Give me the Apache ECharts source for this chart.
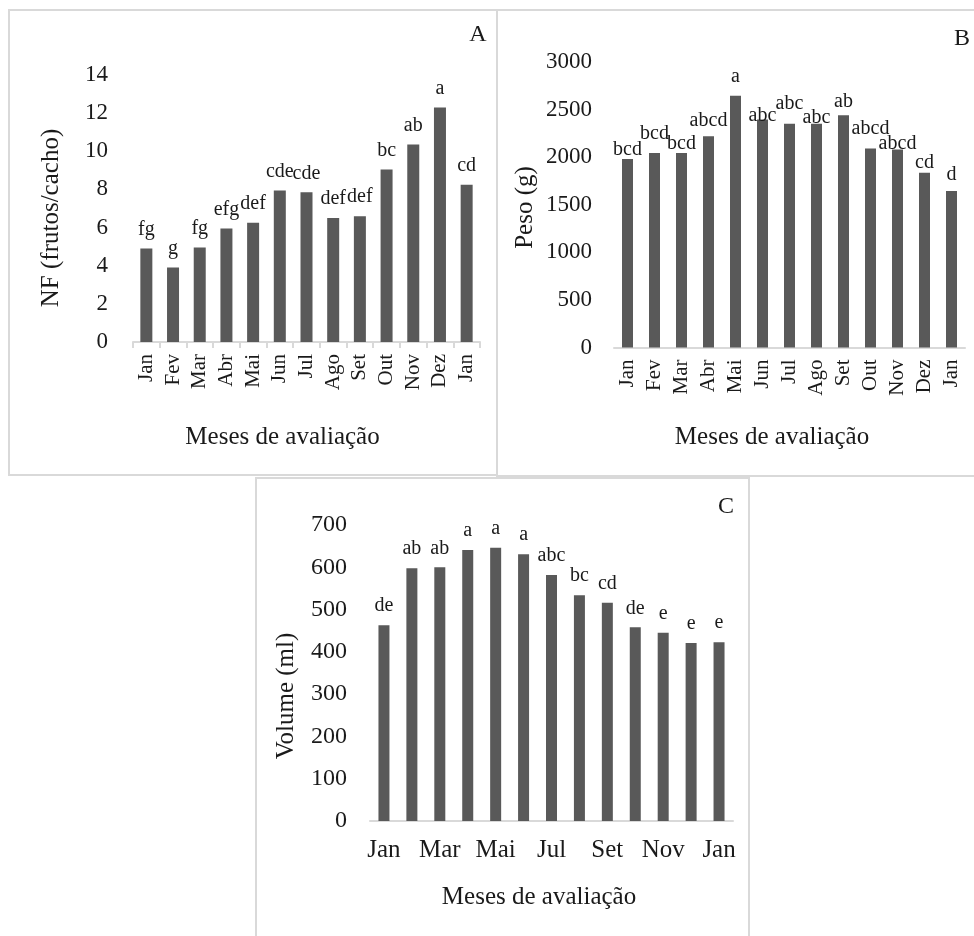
<!DOCTYPE html>
<html>
<head>
<meta charset="utf-8">
<script src="https://cdn.jsdelivr.net/npm/echarts@6/dist/echarts.min.js"></script>
<style>
  html, body { margin: 0; padding: 0; background: #ffffff; }
  #chart { width: 974px; height: 936px; }
</style>
</head>
<body>
<div id="chart"></div>
<script>
// Months of evaluation (x axis, shared by the three panels)
const months = ['Jan', 'Fev', 'Mar', 'Abr', 'Mai', 'Jun', 'Jul', 'Ago', 'Set', 'Out', 'Nov', 'Dez', 'Jan'];

// A: number of fruits per bunch
const nfValues = [4.9, 3.9, 4.95, 5.95, 6.25, 7.95, 7.85, 6.5, 6.6, 9.05, 10.35, 12.3, 8.25];
const nfLetters = ['fg', 'g', 'fg', 'efg', 'def', 'cde', 'cde', 'def', 'def', 'bc', 'ab', 'a', 'cd'];
const nfTicks = { min: 0, max: 14, interval: 2 };

// B: bunch weight (g)
const pesoValues = [1980, 2045, 2045, 2220, 2645, 2395, 2350, 2350, 2440, 2090, 2080, 1835, 1645];
const pesoLetters = ['bcd', 'bcd', 'bcd', 'abcd', 'a', 'abc', 'abc', 'abc', 'ab', 'abcd', 'abcd', 'cd', 'd'];
const pesoTicks = { min: 0, max: 3000, interval: 500 };

// C: volume (ml)
const volumeValues = [463, 598, 600, 641, 646, 631, 582, 534, 516, 458, 445, 421, 423];
const volumeLetters = ['de', 'ab', 'ab', 'a', 'a', 'a', 'abc', 'bc', 'cd', 'de', 'e', 'e', 'e'];
const volumeTicks = { min: 0, max: 700, interval: 100 };

// Lift of the letter labels above each bar in panel B (px)
const pesoLabelLift = [12, 22, 12, 18, 22, 7, 23, 9, 17, 23, 9, 13, 19];

const FONT = "'Liberation Serif', 'Times New Roman', serif";
const TEXT = '#1a1a1a';
const BAR = '#595959';
const FRAME = '#d9d9d9';
const LABEL_HALF = 13;   // offset between label centre and its box edge
const DEFAULT_LIFT = 22; // label centre above bar top (px)

function catAxis(gridIndex, opts) {
  return Object.assign({
    type: 'category',
    gridIndex: gridIndex,
    data: months,
    axisLine: { show: true, lineStyle: { color: FRAME, width: 2 } },
    axisTick: { show: false },
    axisLabel: { color: TEXT, fontFamily: FONT, fontSize: 21, rotate: 90, margin: 12, interval: 0 },
    splitLine: { show: false }
  }, opts || {});
}

function valAxis(gridIndex, ticks, fontSize, margin) {
  return {
    type: 'value',
    gridIndex: gridIndex,
    min: ticks.min,
    max: ticks.max,
    interval: ticks.interval,
    axisLine: { show: false },
    axisTick: { show: false },
    splitLine: { show: false },
    axisLabel: {
      color: TEXT, fontFamily: FONT, fontSize: fontSize, margin: margin,
      formatter: function (v) { return String(v); }
    }
  };
}

function barSeries(idx, values, letters, barWidth, lifts) {
  return {
    type: 'bar',
    xAxisIndex: idx,
    yAxisIndex: idx,
    barWidth: barWidth,
    itemStyle: { color: BAR },
    data: values.map(function (v, i) {
      const item = { value: v };
      if (lifts) {
        item.label = { distance: lifts[i] - LABEL_HALF };
      }
      return item;
    }),
    label: {
      show: true,
      position: 'top',
      distance: DEFAULT_LIFT - LABEL_HALF,
      color: TEXT,
      fontFamily: FONT,
      fontSize: 20,
      formatter: function (p) { return letters[p.dataIndex]; }
    }
  };
}

function txt(x, y, text, size, rot) {
  return {
    type: 'text',
    x: x,
    y: y,
    rotation: rot || 0,
    silent: true,
    style: {
      text: text,
      fill: TEXT,
      font: size + 'px ' + FONT,
      textAlign: 'center',
      textVerticalAlign: 'middle'
    }
  };
}

function frame(x, y, w, h) {
  return {
    type: 'rect',
    silent: true,
    shape: { x: x, y: y, width: w, height: h },
    style: { fill: 'none', stroke: FRAME, lineWidth: 2 }
  };
}

const chart = echarts.init(document.getElementById('chart'), null, { renderer: 'canvas' });

chart.setOption({
  animation: false,
  backgroundColor: '#ffffff',
  grid: [
    { left: 133, top: 75, width: 347, height: 267 },
    { left: 614, top: 62, width: 351, height: 285.5 },
    { left: 370, top: 525, width: 363, height: 296 }
  ],
  xAxis: [
    catAxis(0, { axisTick: { show: true, length: 6, lineStyle: { color: FRAME, width: 2 } } }),
    catAxis(1),
    catAxis(2, { axisLabel: { color: TEXT, fontFamily: FONT, fontSize: 25, rotate: 0, margin: 17, interval: 1 } })
  ],
  yAxis: [
    valAxis(0, nfTicks, 23, 25),
    valAxis(1, pesoTicks, 23, 22),
    valAxis(2, volumeTicks, 24, 23)
  ],
  series: [
    barSeries(0, nfValues, nfLetters, 12, null),
    barSeries(1, pesoValues, pesoLetters, 11, pesoLabelLift),
    barSeries(2, volumeValues, volumeLetters, 11, null)
  ],
  graphic: [
    frame(9, 10, 488, 465),
    frame(497, 10, 490, 466),
    frame(256, 478, 493, 470),
    txt(478, 35, 'A', 24),
    txt(962, 39, 'B', 24),
    txt(726, 507, 'C', 24),
    txt(51.7, 218, 'NF (frutos/cacho)', 25, Math.PI / 2),
    txt(525, 207.5, 'Peso (g)', 25, Math.PI / 2),
    txt(286.6, 696, 'Volume (ml)', 25, Math.PI / 2),
    txt(282.5, 437, 'Meses de avaliação', 25),
    txt(772, 437, 'Meses de avaliação', 25),
    txt(539, 897, 'Meses de avaliação', 25)
  ]
});
</script>
</body>
</html>
